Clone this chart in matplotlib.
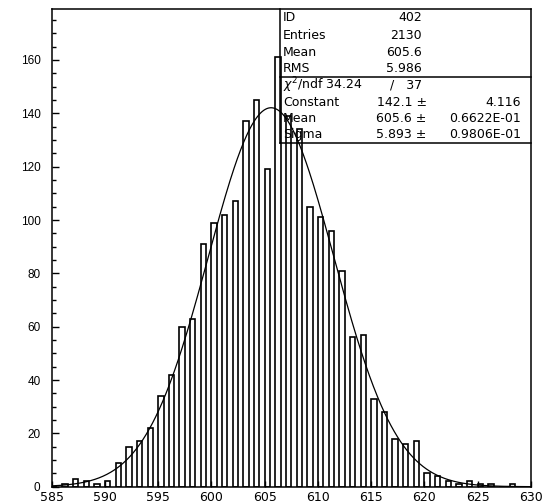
import numpy as np
import matplotlib
matplotlib.use("Agg")
import matplotlib.pyplot as plt
from matplotlib.ticker import MultipleLocator

# ---- data ----
bin_left = list(range(585, 630))
counts = [0, 1, 3, 2, 1, 2, 9, 15, 17, 22,
          34, 42, 60, 63, 91, 99, 102, 107, 137, 145,
          119, 161, 139, 134, 105, 101, 96, 81, 56, 57,
          33, 28, 18, 16, 17, 5, 4, 2, 1, 2,
          1, 1, 0, 1, 0]
xticks = [585, 590, 595, 600, 605, 610, 615, 620, 625, 630]
yticks = [0, 20, 40, 60, 80, 100, 120, 140, 160]

# fit parameters (as printed in the stats box)
fit_const, fit_mean, fit_sigma = 142.1, 605.6, 5.893

stats_labels = ["ID", "Entries", "Mean", "RMS"]
stats_values = ["402", "2130", "605.6", "5.986"]
fit_labels = ["Constant", "Mean", "Sigma"]
fit_values = ["142.1", "605.6", "5.893"]
fit_errors = ["4.116", "0.6622E-01", "0.9806E-01"]
chi2, ndf = "34.24", "37"

# ---- figure ----
fig = plt.figure(figsize=(5.44, 5.04), dpi=100)
ax = fig.add_axes([0.095, 0.0343, 0.881, 0.9472])

ax.bar(bin_left, counts, width=0.5, align='edge', fill=False,
       edgecolor='black', linewidth=1.2, zorder=2)

xs = np.linspace(585, 630, 600)
ax.plot(xs, fit_const * np.exp(-0.5 * ((xs - fit_mean) / fit_sigma) ** 2),
        color='black', linewidth=0.9, zorder=4)

ax.set_xlim(585, 630)
ax.set_ylim(0, 179)
ax.set_xticks(xticks)
ax.set_yticks(yticks)
ax.yaxis.set_minor_locator(MultipleLocator(5))
ax.tick_params(axis='y', which='major', direction='in', length=5, width=1.0,
               pad=8, right=False)
ax.tick_params(axis='y', which='minor', direction='in', length=3, width=1.0,
               right=False)
ax.tick_params(axis='x', which='major', direction='in', length=4, width=1.0,
               pad=3, top=False)
for lab in ax.get_yticklabels():
    lab.set_fontfamily('Liberation Sans')
    lab.set_fontsize(8.5)
for lab in ax.get_xticklabels():
    lab.set_fontfamily('DejaVu Sans')
    lab.set_fontsize(9)
for s in ax.spines.values():
    s.set_linewidth(1.1)

# ---- stats box ----
bx = 0.4763
y_mid = 0.858
y_bot = 0.7195
lkw = dict(transform=ax.transAxes, color='black', linewidth=1.1,
           clip_on=False, zorder=5)
ax.plot([bx, bx], [y_bot, 1.0], **lkw)
ax.plot([bx, 1.0], [y_mid, y_mid], **lkw)
ax.plot([bx, 1.0], [y_bot, y_bot], **lkw)

tx = 0.4826
col2 = 0.772
col2b = 0.7824
col3 = 0.9785
tkw = dict(transform=ax.transAxes, fontsize=9, family='DejaVu Sans',
           va='center', zorder=6)
rows_top = [0.9839, 0.9462, 0.9106, 0.877]
for lab, val, y in zip(stats_labels, stats_values, rows_top):
    ax.text(tx, y, lab, ha='left', **tkw)
    ax.text(col2, y, val, ha='right', **tkw)

ax.text(tx, 0.8414, r"$\chi^2$/ndf " + chi2, ha='left', **tkw)
ax.text(col2, 0.8414, "/   " + ndf, ha='right', **tkw)
rows_fit = [0.8058, 0.7723, 0.7388]
for lab, val, err, y in zip(fit_labels, fit_values, fit_errors, rows_fit):
    ax.text(tx, y, lab, ha='left', **tkw)
    ax.text(col2b, y, val + " \u00b1", ha='right', **tkw)
    ax.text(col3, y, err, ha='right', **tkw)

fig.savefig("out.png", dpi=100)
